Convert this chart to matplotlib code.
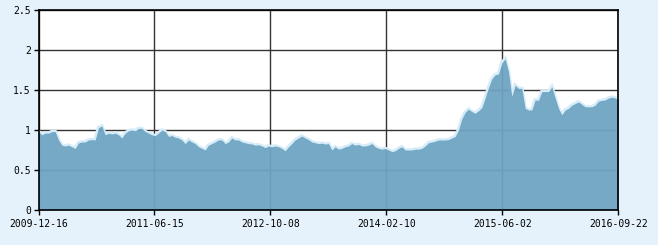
import matplotlib
matplotlib.use("Agg")
import matplotlib.pyplot as plt
import numpy as np

nav_part1 = [
    0.98, 0.94, 0.96, 0.96, 0.98, 0.98, 0.875, 0.81, 0.80, 0.81,
    0.79, 0.77, 0.84, 0.85, 0.85, 0.875, 0.88, 0.875, 1.03, 1.05,
    0.94, 0.96, 0.95, 0.96, 0.94, 0.90, 0.96, 0.99, 1.00, 0.99,
    1.02, 1.02, 0.98, 0.96, 0.94, 0.93, 0.96, 1.00, 0.98, 0.92,
    0.93, 0.91, 0.90, 0.875, 0.83, 0.875, 0.85, 0.83, 0.79, 0.77,
    0.75, 0.81, 0.83, 0.85, 0.875, 0.875, 0.83, 0.85, 0.90, 0.875,
    0.875, 0.85, 0.84, 0.83, 0.825, 0.81, 0.815, 0.80, 0.78, 0.80,
    0.79, 0.80, 0.79, 0.77, 0.74, 0.79, 0.83, 0.875, 0.90, 0.925,
    0.90, 0.88, 0.85, 0.84, 0.83, 0.835, 0.825,
]
nav_part2 = [
    0.83, 0.75, 0.79, 0.76, 0.77, 0.79, 0.80, 0.83, 0.81, 0.82,
    0.80, 0.80, 0.81, 0.83, 0.79, 0.77, 0.76, 0.77, 0.75, 0.73,
    0.74, 0.77, 0.79, 0.75, 0.75, 0.75, 0.76, 0.76, 0.77, 0.80,
    0.84, 0.85, 0.86, 0.875, 0.875, 0.875, 0.88, 0.90, 0.92, 1.00,
    1.14, 1.22, 1.26, 1.23, 1.21, 1.24, 1.28, 1.40, 1.53, 1.64,
    1.69, 1.70, 1.84, 1.89, 1.73, 1.42, 1.56, 1.52, 1.52, 1.27,
    1.25, 1.25, 1.375, 1.37, 1.48, 1.48, 1.48, 1.54, 1.40, 1.27,
    1.19, 1.25, 1.27, 1.31, 1.33, 1.35, 1.32, 1.29, 1.29, 1.29,
    1.31, 1.36, 1.37, 1.375, 1.40, 1.41, 1.40, 1.375,
]
nav_values = nav_part1 + nav_part2
tick_labels = ["2009-12-16", "2011-06-15", "2012-10-08",
               "2014-02-10", "2015-06-02", "2016-09-22"]
y_ticks = [0, 0.5, 1, 1.5, 2, 2.5]
y_labels = ["0", "0.5", "1", "1.5", "2", "2.5"]

bg = "#e6f2fb"
fill_col = (110/255, 164/255, 194/255)
edge_col = "#d6ecf8"

W, H = 658, 245
fig = plt.figure(figsize=(W/100, H/100), dpi=100, facecolor=bg)
ax = fig.add_axes([38.5/W, (H-210)/H, 580/W, 200/H])
ax.set_facecolor("white")

x = np.arange(len(nav_values))
ax.plot(x, nav_values, color=edge_col, lw=2.6, zorder=2, solid_joinstyle="miter")
ax.fill_between(x, 0, nav_values, color=fill_col, alpha=0.946, lw=0, zorder=3)

n = len(nav_values) - 1
ax.set_xlim(0, n)
ax.set_ylim(0, 2.5)
ax.set_xticks(np.linspace(0, n, len(tick_labels)))
ax.set_xticklabels(tick_labels)
ax.set_yticks(y_ticks)
ax.set_yticklabels(y_labels)

ax.grid(True, color="#333333", lw=1.0, zorder=1)
ax.set_axisbelow(True)
for s in ax.spines.values():
    s.set_color("black")
    s.set_linewidth(1.2)
    s.set_zorder(5)

ax.tick_params(axis="both", direction="out", length=3.5, width=1, color="black",
               labelsize=7, labelcolor="black", pad=2)
ax.tick_params(axis="x", pad=3)
for lab in ax.get_xticklabels() + ax.get_yticklabels():
    lab.set_fontfamily("DejaVu Sans Mono")

fig.savefig("out.png", dpi=100, facecolor=bg)
